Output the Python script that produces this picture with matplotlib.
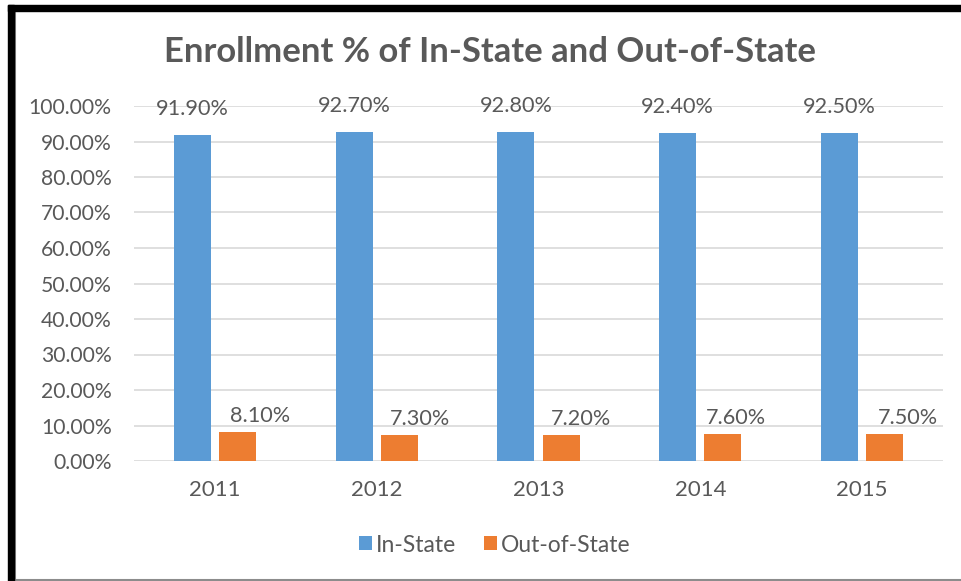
import matplotlib
matplotlib.use("Agg")
import matplotlib.pyplot as plt
from matplotlib.patches import Rectangle
from matplotlib.lines import Line2D
import numpy as np

years = ["2011", "2012", "2013", "2014", "2015"]
in_state = [91.9, 92.7, 92.8, 92.4, 92.5]
out_state = [8.1, 7.3, 7.2, 7.6, 7.5]
yticks = [0, 10, 20, 30, 40, 50, 60, 70, 80, 90, 100]
series_names = ["In-State", "Out-of-State"]
title = "Enrollment % of In-State and Out-of-State"

BLUE = "#5B9BD5"
ORANGE = "#ED7D31"
GRID = "#D9D9D9"
TXT = "#595959"
FONT = "Lato"

W, H = 961, 581
fig = plt.figure(figsize=(W / 100, H / 100), dpi=100)

def fx(px):
    return px / W

def fy(py):
    return 1 - py / H

# frame: black outer border (left, top), gray inner lines (left, bottom)
fig.patches.append(Rectangle((fx(8), fy(H)), fx(6), fy(5) - fy(H), transform=fig.transFigure,
                             color="black", zorder=10))
fig.patches.append(Rectangle((fx(8), fy(11)), 1 - fx(8), fy(5) - fy(11), transform=fig.transFigure,
                             color="black", zorder=10))
fig.lines.append(Line2D([fx(14.5), fx(14.5)], [fy(11), fy(580)], transform=fig.transFigure,
                        color="#8c8c8c", lw=1.5, zorder=9))
fig.lines.append(Line2D([fx(14), 1], [fy(579.5), fy(579.5)], transform=fig.transFigure,
                        color="#8c8c8c", lw=1.5, zorder=9))

left, right, top, bottom = 134, 943, 106, 461
ax = fig.add_axes([fx(left), fy(bottom), fx(right - left), fy(top) - fy(bottom)])

x = np.arange(len(years))
bw = 0.229
gap = 0.05
off = (bw + gap) / 2
b1 = ax.bar(x - off, in_state, bw, color=BLUE, zorder=3, label=series_names[0])
b2 = ax.bar(x + off, out_state, bw, color=ORANGE, zorder=3, label=series_names[1])

ax.set_xlim(-0.5, len(years) - 0.5)
ax.set_ylim(0, 100)
ax.set_yticks(yticks)
ax.set_yticklabels([f"{v:.2f}%" for v in yticks])
ax.set_xticks(x)
ax.set_xticklabels(years)
ax.yaxis.grid(True, color=GRID, lw=1.2, zorder=0)
ax.set_axisbelow(True)
for s in ax.spines.values():
    s.set_visible(False)
ax.tick_params(axis="both", length=0, labelcolor=TXT)
ax.tick_params(axis="y", pad=16, labelsize=15.2)
ax.tick_params(axis="x", pad=14, labelsize=16)
for t in ax.get_xticklabels() + ax.get_yticklabels():
    t.set_fontfamily(FONT)

# data labels
orange_dx_px = [23, 21, 20, 13, 23]
LBL = 15.6
for i, v in enumerate(in_state):
    ax.annotate(f"{v:.2f}%", (x[i] - off, v), xytext=(0, 26 * 0.72), textcoords="offset points",
                ha="center", va="center", fontsize=LBL, color=TXT, fontfamily=FONT)
for i, v in enumerate(out_state):
    ax.annotate(f"{v:.2f}%", (x[i] + off, v), xytext=(orange_dx_px[i] * 0.72, 16 * 0.72),
                textcoords="offset points", ha="center", va="center", fontsize=LBL, color=TXT,
                fontfamily=FONT)

fig.text(fx(490), fy(52), title, ha="center", va="center", fontsize=24.9, fontweight="bold",
         color=TXT, fontfamily=FONT)

leg = fig.legend(handles=[b1, b2], labels=series_names, loc="center", bbox_to_anchor=(fx(495), fy(545)),
                 ncol=2, frameon=False, handlelength=0.55, handleheight=0.55, handletextpad=0.2,
                 columnspacing=1.2, prop={"family": FONT, "size": 16.5})
for t in leg.get_texts():
    t.set_color(TXT)

fig.savefig("out.png", dpi=100)
